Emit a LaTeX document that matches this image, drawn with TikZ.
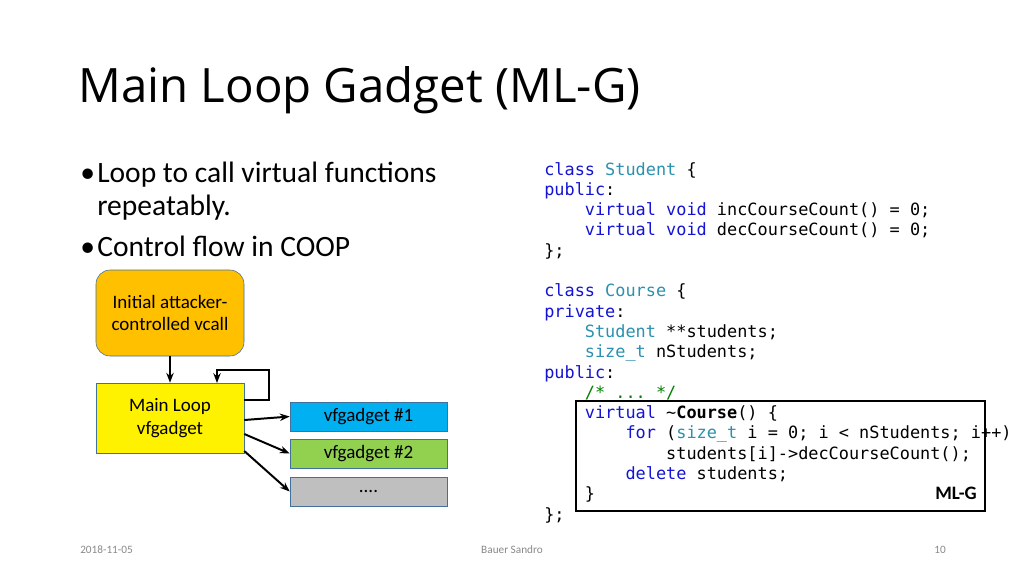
\documentclass[tikz,border=0pt]{standalone}
\usepackage{fontspec}
\usepackage{tikz}
\usetikzlibrary{arrows.meta}
\setmainfont{Carlito}
\newfontfamily\titlefont{Open Sans}
\setmonofont{DejaVu Sans Mono}
\definecolor{slidegold}{RGB}{255, 192, 0}
\definecolor{slideblue}{RGB}{0, 176, 240}
\definecolor{slidegreen}{RGB}{146, 208, 80}
\definecolor{slidegray}{RGB}{191, 191, 191}
\definecolor{slideedge}{RGB}{65, 113, 156}
\definecolor{codekw}{RGB}{20, 20, 210}
\definecolor{codetype}{RGB}{43, 145, 175}
\definecolor{codecmt}{RGB}{0, 128, 0}
\definecolor{footgray}{RGB}{137, 137, 137}
\newcommand{\kw}[1]{\textcolor{codekw}{#1}}
\newcommand{\ty}[1]{\textcolor{codetype}{#1}}

\begin{document}
\begin{tikzpicture}[x=0.025cm, y=-0.025cm,
    box/.style={draw=slideedge, font=\fontsize{13.5}{16}\selectfont, align=center, inner sep=0pt},
    gadget/.style={box, minimum width=157*0.025cm, minimum height=29*0.025cm},
    bullet/.style={anchor=base west, inner sep=0pt, font=\fontsize{21}{24}\selectfont},
    code/.style={anchor=base west, inner sep=0pt, font=\ttfamily\fontsize{12}{14}\selectfont},
    foot/.style={inner sep=0pt, text=footgray, font=\fontsize{8}{9}\selectfont},
    flow/.style={line width=1.4pt, -{Stealth[length=7pt]}}]
    % Slide canvas
    \useasboundingbox[fill=white] (0,0) rectangle (1024,575);

    % Title
    \node[anchor=base west, inner sep=0pt, font=\titlefont\fontsize{33.7}{38}\selectfont] (title) at (78,102) {Main Loop Gadget (ML-G)};

    % Bullets
    \node[bullet] (b1) at (80,182) {\textbullet};
    \node[bullet] (t1) at (97,182) {Loop to call virtual functions};
    \node[bullet] (t1b) at (97,215) {repeatably.};
    \node[bullet] (b2) at (80,256) {\textbullet};
    \node[bullet] (t2) at (97,256) {Control flow in COOP};

    % Control flow diagram
    \node[box, fill=slidegold, rounded corners=10pt, minimum width=148*0.025cm, minimum height=86*0.025cm] (init) at (170,313) {Initial attacker-\\controlled vcall};
    \node[box, fill=yellow, minimum width=148*0.025cm, minimum height=70*0.025cm] (mainloop) at (170,418) {Main Loop\\vfgadget};
    \node[gadget, fill=slideblue] (g1) at (368.5,416.5) {vfgadget \#1};
    \node[gadget, fill=slidegreen] (g2) at (368.5,453.5) {vfgadget \#2};
    \node[gadget, fill=slidegray] (g3) at (368.5,491.5) {....};

    \draw[flow] (init.south) -- (mainloop.north);
    \draw[flow] (mainloop.east |- 0,400) -- (269,400) -- (269,370) -- (217,370) -- (217,383);
    \draw[flow] (mainloop.east |- 0,420) -- (g1.west);
    \draw[flow] (mainloop.east |- 0,434) -- (g2.west);
    \draw[flow] (mainloop.east |- 0,451) -- (g3.west);

    % Source code
    \node[code] (c1) at (544,175) {\kw{class} \ty{Student} \{};
    \node[code] (c2) at (544,195.3) {\kw{public}:};
    \node[code] (c3) at (544,215.6) {\ \ \ \ \kw{virtual} \kw{void} incCourseCount() = 0;};
    \node[code] (c4) at (544,235.9) {\ \ \ \ \kw{virtual} \kw{void} decCourseCount() = 0;};
    \node[code] (c5) at (544,256.2) {\};};
    \node[code] (c6) at (544,296.8) {\kw{class} \ty{Course} \{};
    \node[code] (c7) at (544,317.1) {\kw{private}:};
    \node[code] (c8) at (544,337.4) {\ \ \ \ \ty{Student} **students;};
    \node[code] (c9) at (544,357.7) {\ \ \ \ \ty{size\_t} nStudents;};
    \node[code] (c10) at (544,378) {\kw{public}:};
    \node[code] (c11) at (544,398.3) {\ \ \ \ \textcolor{codecmt}{/* ... */}};
    \node[code] (c12) at (544,418.6) {\ \ \ \ \kw{virtual} \textasciitilde\textbf{Course}() \{};
    \node[code] (c13) at (544,438.9) {\ \ \ \ \ \ \ \ \kw{for} (\ty{size\_t} i = 0; i < nStudents; i++)};
    \node[code] (c14) at (544,459.2) {\ \ \ \ \ \ \ \ \ \ \ \ students[i]->decCourseCount();};
    \node[code] (c15) at (544,479.5) {\ \ \ \ \ \ \ \ \kw{delete} students;};
    \node[code] (c16) at (544,499.8) {\ \ \ \ \}};
    \node[code] (c17) at (544,520.1) {\};};

    % ML-G frame
    \draw[line width=1.6pt] (576,401) rectangle (985,511);
    \node[anchor=base east, inner sep=0pt, font=\bfseries\fontsize{13.5}{16}\selectfont] (mlg) at (977,499) {ML-G};

    % Footer
    \node[foot, anchor=base west] (date) at (80,553) {2018-11-05};
    \node[foot, anchor=base] (author) at (512,553) {Bauer Sandro};
    \node[foot, anchor=base east] (page) at (946,553) {10};
\end{tikzpicture}
\end{document}
